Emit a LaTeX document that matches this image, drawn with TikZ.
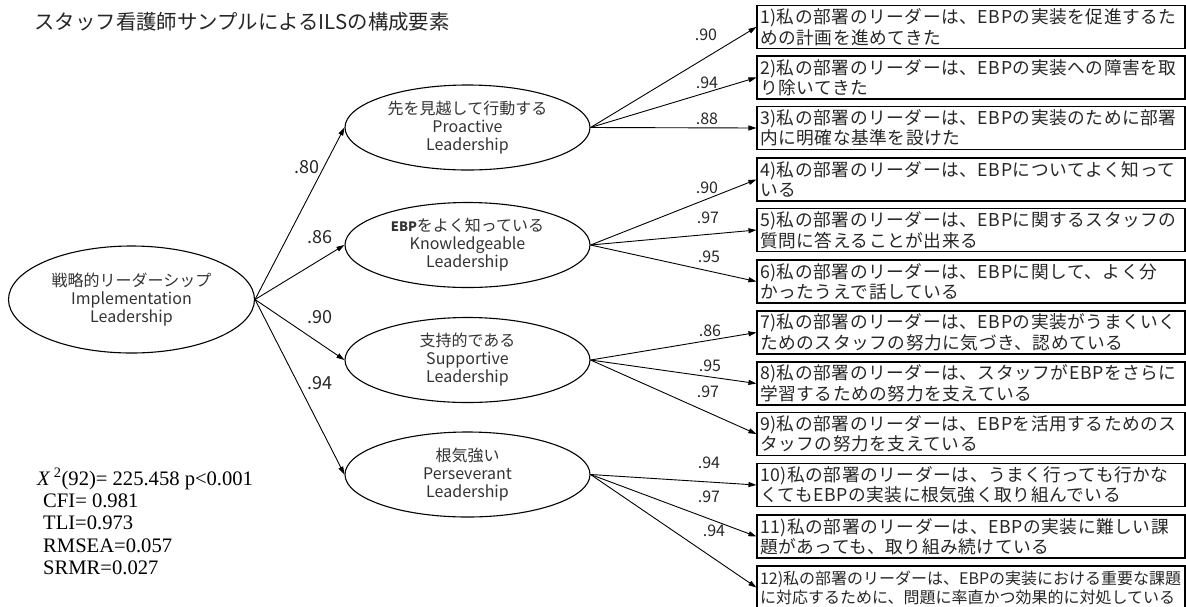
\documentclass[tikz,border=0pt]{standalone}
\usepackage{fontspec}
\setmainfont{Noto Sans CJK JP}
\newfontfamily\tms{Liberation Serif}
\newfontfamily\spjp[LetterSpace=3.2]{Noto Sans CJK JP}
\usetikzlibrary{shapes.geometric,arrows.meta}
\begin{document}
\begin{tikzpicture}[x=1pt,y=-1pt,
 lat/.style={draw, ellipse, line width=1.1pt, minimum width=245pt, minimum height=85pt, inner sep=0pt, align=center, font=\fontsize{16}{18}\selectfont, text=black!80},
 item/.style={draw, line width=1.1pt, minimum width=428pt, minimum height=43pt, inner sep=3pt, align=left, text width=422pt, font=\spjp\fontsize{17.7}{20.5}\selectfont, text=black!85},
 arr/.style={-{Triangle[length=8pt,width=5pt]}, line width=0.9pt},
 ld/.style={font=\fontsize{16}{18}\selectfont, text=black!85},
 ldb/.style={font=\fontsize{18}{20}\selectfont, text=black!85}]
\useasboundingbox (0,0) rectangle (1186,606);

\node[anchor=west, font=\fontsize{20.4}{22}\selectfont, text=black!85] (title) at (31,22) {スタッフ看護師サンプルによるILSの構成要素};

\node[lat, minimum width=246pt, minimum height=107pt] (main) at (131.5,299.5) {戦略的リーダーシップ\\Implementation\\Leadership};

\node[lat] (f1) at (467.5,127.5) {先を見越して行動する\\Proactive\\Leadership};
\node[lat] (f2) at (467.5,245) {{\fontsize{13}{18}\selectfont\bfseries EBP}をよく知っている\\Knowledgeable\\Leadership};
\node[lat] (f3) at (467.5,360) {支持的である\\Supportive\\Leadership};
\node[lat] (f4) at (467.5,474.5) {根気強い\\Perseverant\\Leadership};

\node[item] (i1) at (971,27) {1)私の部署のリーダーは、EBPの実装を促進するた\\めの計画を進めてきた};
\node[item] (i2) at (971,77.5) {2)私の部署のリーダーは、EBPの実装への障害を取\\り除いてきた};
\node[item] (i3) at (971,128) {3)私の部署のリーダーは、EBPの実装のために部署\\内に明確な基準を設けた};
\node[item] (i4) at (971,179.5) {4)私の部署のリーダーは、EBPについてよく知って\\いる};
\node[item] (i5) at (971,230) {5)私の部署のリーダーは、EBPに関するスタッフの\\質問に答えることが出来る};
\node[item] (i6) at (971,281.5) {6)私の部署のリーダーは、EBPに関して、よく分\\かったうえで話している};
\node[item] (i7) at (971,332.5) {7)私の部署のリーダーは、EBPの実装がうまくいく\\ためのスタッフの努力に気づき、認めている};
\node[item] (i8) at (971,383.5) {8)私の部署のリーダーは、スタッフがEBPをさらに\\学習するための努力を支えている};
\node[item] (i9) at (971,434) {9)私の部署のリーダーは、EBPを活用するためのス\\タッフの努力を支えている};
\node[item] (i10) at (971,485) {10)私の部署のリーダーは、うまく行っても行かな\\くてもEBPの実装に根気強く取り組んでいる};
\node[item] (i11) at (971,536.5) {11)私の部署のリーダーは、EBPの実装に難しい課\\題があっても、取り組み続けている};
\node[item, font=\fontsize{16}{19}\selectfont] (i12) at (971,587.5) {12)私の部署のリーダーは、EBPの実装における重要な課題\\に対応するために、問題に率直かつ効果的に対処している};

\foreach \f in {f1,f2,f3,f4} \draw[arr] (main.east) -- (\f.west);
\foreach \i in {i1,i2,i3} \draw[arr] (f1.east) -- (\i.west);
\foreach \i in {i4,i5,i6} \draw[arr] (f2.east) -- (\i.west);
\foreach \i in {i7,i8,i9} \draw[arr] (f3.east) -- (\i.west);
\foreach \i in {i10,i11,i12} \draw[arr] (f4.east) -- (\i.west);

\node[ldb] (l1) at (307,167) {.80};
\node[ldb] (l2) at (320,237) {.86};
\node[ldb] (l3) at (320,317) {.90};
\node[ldb] (l4) at (320,383) {.94};

\node[ld] (a1) at (706,35) {.90};
\node[ld] (a2) at (707,83) {.94};
\node[ld] (a3) at (707,119) {.88};
\node[ld] (a4) at (707,188) {.90};
\node[ld] (a5) at (708,218) {.97};
\node[ld] (a6) at (709,257) {.95};
\node[ld] (a7) at (710,331) {.86};
\node[ld] (a8) at (710,366) {.95};
\node[ld] (a9) at (708,392) {.97};
\node[ld] (a10) at (709,463) {.94};
\node[ld] (a11) at (709,497) {.97};
\node[ld] (a12) at (714,531) {.94};

\node[anchor=north west, align=left, inner sep=0pt, font=\tms\fontsize{20.6}{22.3}\selectfont] (stats) at (37,468)
 {\textit{X}\,\textsuperscript{2}(92)= 225.458 p<0.001\\
  \hspace*{6pt}CFI= 0.981\\
  \hspace*{6pt}TLI=0.973\\
  \hspace*{6pt}RMSEA=0.057\\
  \hspace*{6pt}SRMR=0.027};
\end{tikzpicture}
\end{document}
